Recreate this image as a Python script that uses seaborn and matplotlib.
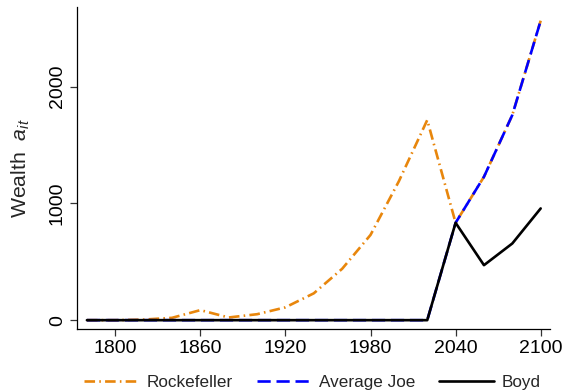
import numpy as np
import pandas as pd
import matplotlib
matplotlib.use("Agg")
import matplotlib.pyplot as plt
import seaborn as sns

# Simulated wealth paths, one value every 20 years
years = [1780, 1800, 1820, 1840, 1860, 1880, 1900, 1920, 1940,
         1960, 1980, 2000, 2020, 2040, 2060, 2080, 2100]
rockefeller = [0, 0, 5, 20, 86, 23, 51, 110, 230,
               440, 730, 1190, 1714, 834, 1228, 1757, 2565]
average_joe = [0, 0, 0, 0, 0, 0, 0, 0, 0,
               0, 0, 0, 0, 834, 1228, 1757, 2565]
boyd = [0, 0, 0, 0, 0, 0, 0, 0, 0,
        0, 0, 0, 0, 834, 471, 657, 957]

series_names = ["Rockefeller", "Average Joe", "Boyd"]
x_ticks = [1800, 1860, 1920, 1980, 2040, 2100]
y_ticks = [0, 1000, 2000]

sns.set_theme(style="ticks")
plt.rcParams["font.family"] = ["Liberation Sans", "DejaVu Sans"]
plt.rcParams["mathtext.fontset"] = "custom"
plt.rcParams["mathtext.rm"] = "Liberation Sans"
plt.rcParams["mathtext.it"] = "Liberation Sans:italic"

df = pd.DataFrame({
    "year": years * 3,
    "wealth": rockefeller + average_joe + boyd,
    "who": sum([[n] * len(years) for n in series_names], []),
})

styles = {
    "Rockefeller": dict(color="#E8860C", linestyle=(0, (4.0, 1.6, 0.6, 1.6))),
    "Average Joe": dict(color="#0000FF", linestyle=(0, (5.0, 2.2))),
    "Boyd": dict(color="black", linestyle="-"),
}

fig = plt.figure(figsize=(5.64, 3.9), dpi=100)
ax = fig.add_axes([0.1365, 0.156, 0.975 - 0.1365, 0.982 - 0.156])

for name in series_names:
    sub = df[df["who"] == name]
    sns.lineplot(data=sub, x="year", y="wealth", ax=ax, label=name,
                 linewidth=1.9, **styles[name])

ax.set_xlim(1773, 2106.5)
ax.set_ylim(-77, 2682)
ax.set_xticks(x_ticks)
ax.set_yticks(y_ticks)
ax.set_xlabel("")
ax.set_ylabel(r"Wealth  $a_{it}$", fontsize=15.3, labelpad=12)
ax.tick_params(axis="both", labelsize=14, length=5, width=0.9,
               color="#333333", labelcolor="black", pad=3)
for lab in ax.get_yticklabels():
    lab.set_rotation(90)
    lab.set_va("center")
sns.despine(ax=ax)
for s in ("left", "bottom"):
    ax.spines[s].set_linewidth(0.9)
    ax.spines[s].set_color("black")

handles, labels = ax.get_legend_handles_labels()
ax.legend_.remove()
fig.legend(handles, labels, loc="center", bbox_to_anchor=(0.554, 0.02),
           ncol=3, frameon=False, fontsize=12.3, handlelength=3.2,
           handletextpad=0.45, columnspacing=1.4)

fig.savefig("out.png", dpi=100)
